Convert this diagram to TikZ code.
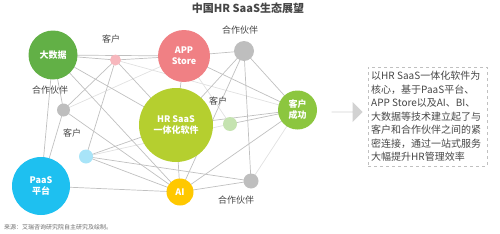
\documentclass[tikz,border=0pt]{standalone}
\usepackage{fontspec}
\setmainfont{Noto Sans CJK SC}
\usetikzlibrary{shapes.arrows}
\definecolor{cBig}{RGB}{98,176,70}
\definecolor{cApp}{RGB}{240,128,132}
\definecolor{cHR}{RGB}{181,207,47}
\definecolor{cCust}{RGB}{140,198,63}
\definecolor{cPaaS}{RGB}{30,192,240}
\definecolor{cAI}{RGB}{255,200,0}
\definecolor{cPink}{RGB}{247,183,189}
\definecolor{cLG}{RGB}{197,227,176}
\definecolor{cLB}{RGB}{168,228,248}
\definecolor{cGray}{RGB}{190,190,190}
\definecolor{cLine}{RGB}{192,192,192}
\definecolor{cLineL}{RGB}{225,225,225}
\definecolor{cTxt}{RGB}{70,70,70}
\tikzset{
  ball/.style={circle, inner sep=0pt, fill=#1, draw=none},
  btxt/.style={text=white, font=\fontsize{9}{11}\selectfont\bfseries, align=center},
  lbl/.style={text=cTxt, font=\fontsize{9}{10}\selectfont, inner sep=0pt},
  edge/.style={draw=cLine, line width=0.7pt},
  edgel/.style={draw=cLineL, line width=0.7pt},
}
\begin{document}
\begin{tikzpicture}[x=1pt,y=-1pt]
\useasboundingbox (0,0) rectangle (500,233);
% coordinates of nodes
\coordinate (D) at (53,55);
\coordinate (P) at (115.5,60);
\coordinate (A) at (184,56);
\coordinate (G1) at (244,51);
\coordinate (H) at (176,125);
\coordinate (C) at (297.5,110);
\coordinate (L) at (230,124);
\coordinate (G2) at (63.5,110);
\coordinate (B) at (86,156.5);
\coordinate (S) at (41,186);
\coordinate (I) at (180,192);
\coordinate (G3) at (251,181);
% edges
\draw[edgel] (G2) -- (A);
\draw[edgel] (A) -- (L);
\draw[edgel] (B) -- (L);
\draw[edgel] (C) -- (G3);
\draw[edgel] (P) -- (C);
\foreach \a/\b in {D/A,D/P,D/H,D/G2,D/I,D/S,P/A,P/H,P/G2,P/B,A/H,A/C,G1/H,G1/C,G1/I,G1/G3,C/H,C/L,C/I,H/I,H/B,B/I,B/G3,S/I,S/G2,G2/I,I/G3,A/G1}
  \draw[edge] (\a) -- (\b);
% balls
\node[ball=cBig, minimum size=49pt] (nD) at (D) {};
\node[btxt] at (D) {大数据};
\node[ball=cPink, minimum size=11pt] (nP) at (P) {};
\node[ball=cApp, minimum size=52pt] (nA) at (A) {};
\node[btxt] at (A) {APP\\Store};
\node[ball=cGray, minimum size=20pt] (nG1) at (G1) {};
\node[ball=cHR, minimum size=74pt] (nH) at (H) {};
\node[btxt] at (H) {HR SaaS\\一体化软件};
\node[ball=cCust, minimum size=39pt] (nC) at (C) {};
\node[btxt] at (C) {客户\\成功};
\node[ball=cLG, minimum size=14pt] (nL) at (L) {};
\node[ball=cGray, minimum size=13pt] (nG2) at (G2) {};
\node[ball=cLB, minimum size=14pt] (nB) at (B) {};
\node[ball=cPaaS, minimum size=58pt] (nS) at (S) {};
\node[btxt] at (S) {PaaS\\平台};
\node[ball=cAI, minimum size=27pt] (nI) at (I) {};
\node[btxt] at (I) {AI};
\node[ball=cGray, minimum size=15pt] (nG3) at (G3) {};
% labels
\node[lbl] (l1) at (111,39) {客户};
\node[lbl] (l2) at (240,30) {合作伙伴};
\node[lbl] (l3) at (50,90) {合作伙伴};
\node[lbl] (l4) at (218,101) {客户};
\node[lbl] (l5) at (72,133) {客户};
\node[lbl] (l6) at (236,200) {合作伙伴};
% title
\node[text=cTxt, font=\fontsize{11}{12}\selectfont\bfseries] (title) at (248,8) {中国HR SaaS生态展望};
% arrow
\node[single arrow, fill=cLineL!85!gray, draw=none, minimum height=31pt, minimum width=20pt, single arrow head extend=5pt, inner sep=0pt] (arr) at (347,112) {};
% text box
\node[draw=cLine, dashed, line width=0.6pt, minimum width=119pt, minimum height=99pt, inner sep=0pt] (box) at (427.5,116.5) {};
\node[text=cTxt, font=\fontsize{10}{13.5}\selectfont, align=left, anchor=north west, inner sep=0pt] (boxtxt) at (371,71) {以HR SaaS一体化软件为\\核心，基于PaaS平台、\\APP Store以及AI、BI、\\大数据等技术建立起了与\\客户和合作伙伴之间的紧\\密连接，通过一站式服务\\大幅提升HR管理效率};
% source
\node[text=cTxt!80, font=\fontsize{6}{7}\selectfont, anchor=west, inner sep=0pt] (src) at (4,227) {来源：艾瑞咨询研究院自主研究及绘制。};
\end{tikzpicture}
\end{document}
